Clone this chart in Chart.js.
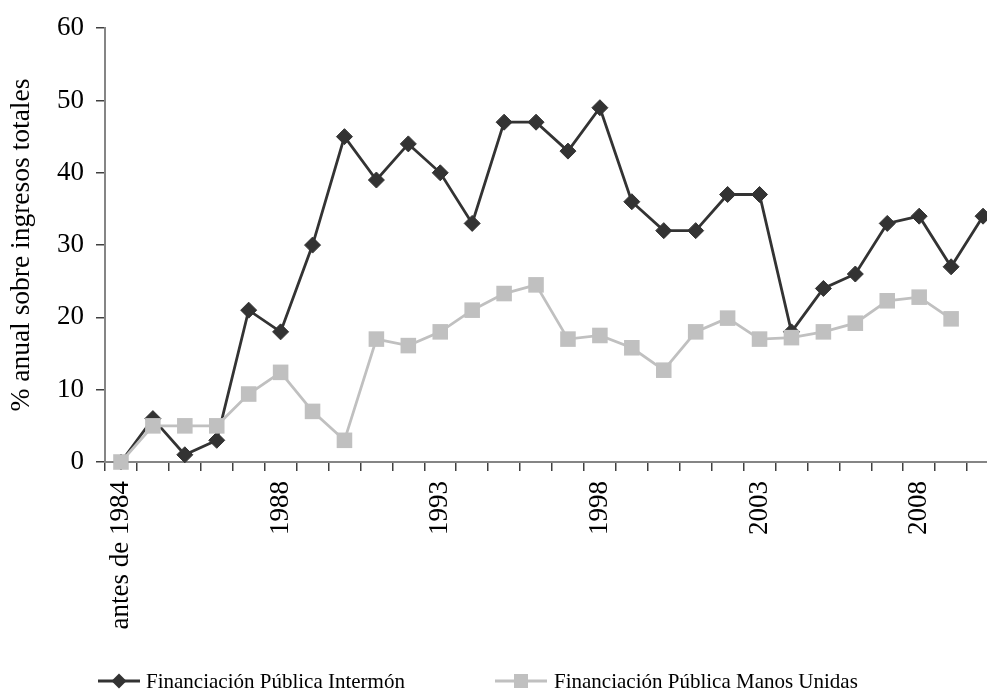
<!DOCTYPE html>
<html>
<head>
<meta charset="utf-8">
<script src="https://cdn.jsdelivr.net/npm/chart.js@4/dist/chart.umd.min.js"></script>
<style>
  html, body { margin: 0; padding: 0; background: #fff; overflow: hidden; }
  #wrap { width: 987px; height: 689px; overflow: hidden; position: relative; }
  canvas { display: block; }
</style>
</head>
<body>
<div id="wrap"><canvas id="chart" width="1010" height="689"></canvas></div>
<script>
// Years on the horizontal axis
const categories = ['antes de 1984', '1984', '1985', '1986', '1987', '1988', '1989', '1990', '1991',
  '1992', '1993', '1994', '1995', '1996', '1997', '1998', '1999', '2000', '2001', '2002', '2003',
  '2004', '2005', '2006', '2007', '2008', '2009', '2010'];
// Only these years get a printed label
const labeledCategories = ['antes de 1984', '1988', '1993', '1998', '2003', '2008'];

// Public funding as % of total income
const intermon = [0, 6, 1, 3, 21, 18, 30, 45, 39, 44, 40, 33, 47, 47, 43, 49, 36, 32, 32, 37, 37,
  18, 24, 26, 33, 34, 27, 34];
const manosUnidas = [0, 5, 5, 5, 9.4, 12.4, 7, 3, 17, 16.1, 18, 21, 23.3, 24.5, 17, 17.5, 15.8, 12.7,
  18, 19.9, 17, 17.2, 18, 19.2, 22.3, 22.8, 19.8, null];

const seriesNames = ['Financiación Pública Intermón', 'Financiación Pública Manos Unidas'];
const yTickValues = [0, 10, 20, 30, 40, 50, 60];
const yTitle = '% anual sobre ingresos totales';

const SERIF = "'Liberation Serif', 'Times New Roman', serif";
const DARK = '#333333';
const LIGHT = '#c0c0c0';

Chart.defaults.font.family = SERIF;
Chart.defaults.color = '#000';

// Legend: a line with the series marker in its middle, followed by the name
const lineLegend = {
  id: 'lineLegend',
  afterDraw(chart, args, opts) {
    const ctx = chart.ctx;
    ctx.save();
    chart.data.datasets.forEach((ds, i) => {
      const item = opts.items[i];
      const y = opts.y;
      ctx.strokeStyle = ds.borderColor;
      ctx.lineWidth = ds.borderWidth;
      ctx.beginPath();
      ctx.moveTo(item.lineFrom, y);
      ctx.lineTo(item.lineTo, y);
      ctx.stroke();
      const cx = (item.lineFrom + item.lineTo) / 2;
      ctx.fillStyle = ds.pointBackgroundColor;
      ctx.beginPath();
      if (ds.pointStyle === 'rectRot') {
        const r = item.marker;
        ctx.moveTo(cx - r, y); ctx.lineTo(cx, y - r); ctx.lineTo(cx + r, y); ctx.lineTo(cx, y + r);
        ctx.closePath();
      } else {
        const s = item.marker;
        ctx.rect(cx - s, y - s, 2 * s, 2 * s);
      }
      ctx.fill();
      ctx.fillStyle = '#000';
      ctx.font = opts.font;
      ctx.textBaseline = 'middle';
      ctx.textAlign = 'left';
      ctx.fillText(ds.label, item.textX, y + 1);
    });
    ctx.restore();
  }
};

new Chart(document.getElementById('chart'), {
  type: 'line',
  data: {
    labels: categories,
    datasets: [
      {
        label: seriesNames[0],
        data: intermon,
        borderColor: DARK,
        backgroundColor: DARK,
        borderWidth: 2.8,
        pointStyle: 'rectRot',
        pointRadius: 8,
        pointBackgroundColor: DARK,
        pointBorderColor: DARK,
        pointBorderWidth: 1,
        tension: 0,
        clip: false,
        order: 1
      },
      {
        label: seriesNames[1],
        data: manosUnidas,
        borderColor: LIGHT,
        backgroundColor: LIGHT,
        borderWidth: 2.8,
        pointStyle: 'rect',
        pointRadius: 11,
        pointBackgroundColor: LIGHT,
        pointBorderColor: LIGHT,
        pointBorderWidth: 0,
        tension: 0,
        clip: false,
        order: 0
      }
    ]
  },
  options: {
    responsive: false,
    animation: false,
    events: [],
    layout: { padding: { top: 26, right: 2, left: 0, bottom: 0 } },
    plugins: {
      legend: { display: false },
      tooltip: { enabled: false },
      lineLegend: {
        y: 681,
        font: "21px " + SERIF,
        items: [
          { lineFrom: 98, lineTo: 140, textX: 146, marker: 7.5 },
          { lineFrom: 495, lineTo: 547, textX: 554, marker: 7 }
        ]
      }
    },
    scales: {
      x: {
        type: 'category',
        offset: true,
        afterFit(scale) {
          scale.height = 227;
          scale.paddingLeft = 0;
          scale.paddingRight = 0;
        },
        grid: {
          offset: true,
          drawOnChartArea: false,
          drawTicks: true,
          tickLength: 9,
          color: '#404040',
          lineWidth: 1.5
        },
        border: { display: true, color: '#858585', width: 2 },
        ticks: {
          autoSkip: false,
          minRotation: 90,
          maxRotation: 90,
          padding: 10,
          font: { size: 27 },
          color: '#000',
          callback(value) {
            const lab = this.getLabelForValue(value);
            return labeledCategories.includes(lab) ? lab : '';
          }
        }
      },
      y: {
        min: yTickValues[0],
        max: yTickValues[yTickValues.length - 1],
        afterFit(scale) { scale.width = 105; },
        afterBuildTicks(scale) { scale.ticks = yTickValues.map(v => ({ value: v })); },
        grid: {
          drawOnChartArea: false,
          drawTicks: true,
          tickLength: 9,
          color: '#404040',
          lineWidth: 1.5
        },
        border: { display: true, color: '#858585', width: 2 },
        ticks: {
          padding: 12,
          font: { size: 27 },
          color: '#000'
        },
        title: {
          display: true,
          text: yTitle,
          font: { size: 27.5 },
          color: '#000',
          padding: { top: 5, bottom: 0 }
        }
      }
    }
  },
  plugins: [lineLegend]
});
</script>
</body>
</html>
